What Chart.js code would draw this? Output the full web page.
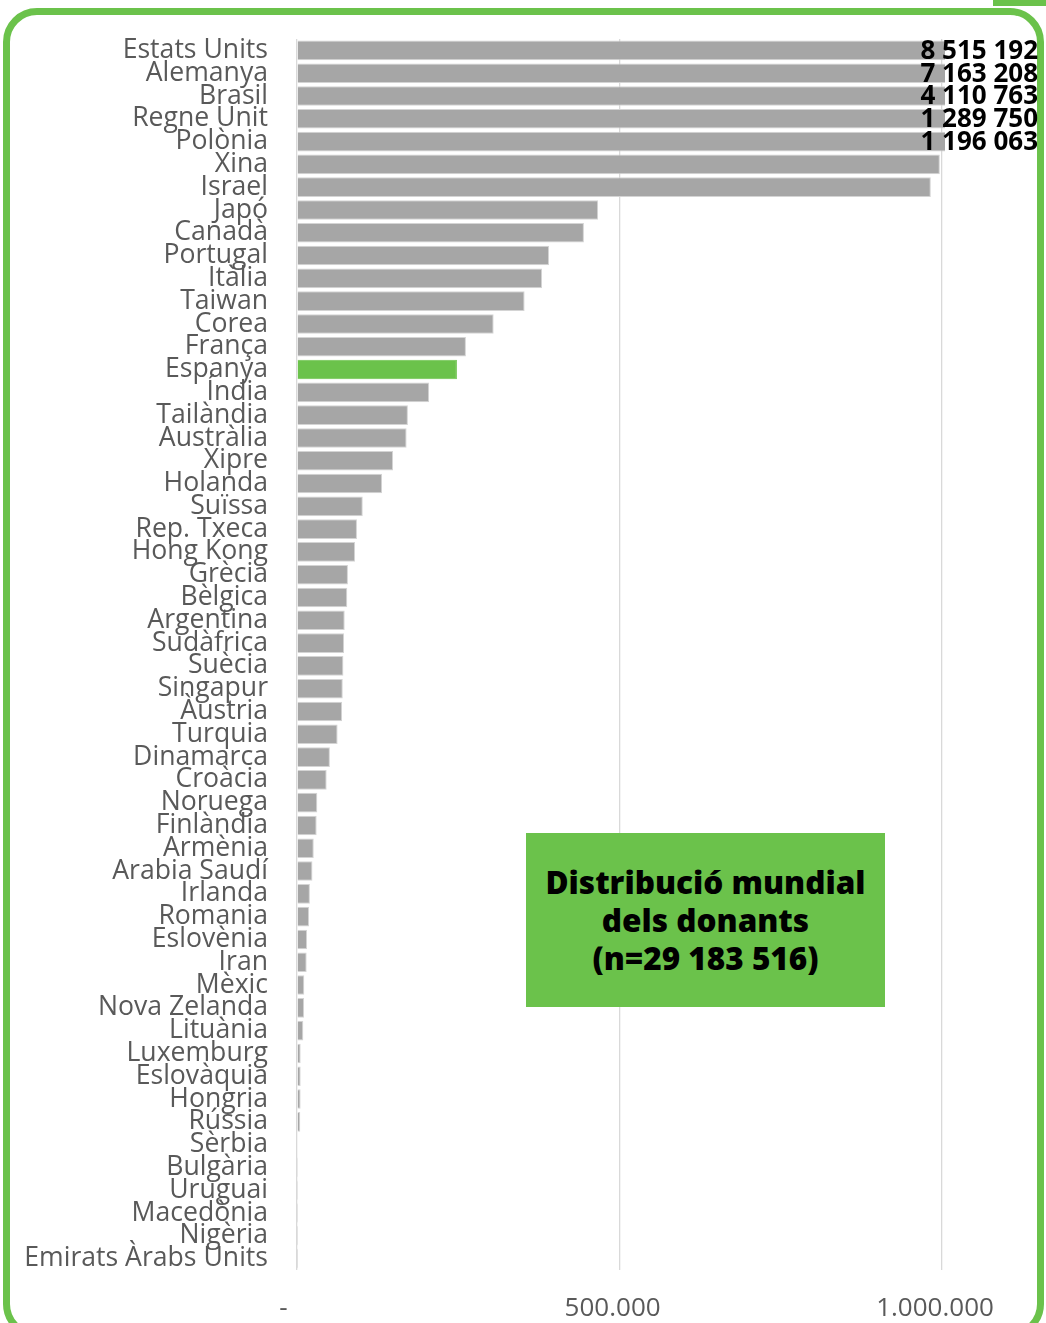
<!DOCTYPE html>
<html>
<head>
<meta charset="utf-8">
<script src="https://cdn.jsdelivr.net/npm/chart.js@4.4.1/dist/chart.umd.min.js"></script>
<style>
  body { margin: 0; background: #fff; }
  #wrap { position: relative; width: 1046px; height: 1323px; overflow: hidden; }
  #frame { position: absolute; left: 3px; top: 8px; width: 1041px; height: 1330px; box-sizing: border-box;
           border: 7px solid #6bc24b; border-radius: 34px; }
  #tab { position: absolute; left: 993px; top: 0; width: 53px; height: 6px; background: #6bc24b; }
  canvas { position: absolute; left: 0; top: 2px; }
  #note { position: absolute; left: 526px; top: 833px; width: 359px; height: 174px; background: #6bc24b;
          display: flex; align-items: center; justify-content: center; text-align: center;
          font: 800 31.5px "Open Sans"; line-height: 38px; color: #000; }
</style>
</head>
<body>
<div id="wrap">
  <div id="frame"></div>
  <div id="tab"></div>
  <canvas id="chart" width="1046" height="1321"></canvas>
  <div id="note"><div>Distribució mundial<br>dels donants<br>(n=29 183 516)</div></div>
</div>
<script>
const countries = ['Estats Units', 'Alemanya', 'Brasil', 'Regne Unit', 'Polònia', 'Xina', 'Israel', 'Japó',
  'Canadà', 'Portugal', 'Itàlia', 'Taiwan', 'Corea', 'França', 'Espanya', 'Índia', 'Tailàndia', 'Austràlia',
  'Xipre', 'Holanda', 'Suïssa', 'Rep. Txeca', 'Hong Kong', 'Grècia', 'Bèlgica', 'Argentina', 'Sudàfrica',
  'Suècia', 'Singapur', 'Àustria', 'Turquia', 'Dinamarca', 'Croàcia', 'Noruega', 'Finlàndia', 'Armènia',
  'Arabia Saudí', 'Irlanda', 'Romania', 'Eslovènia', 'Iran', 'Mèxic', 'Nova Zelanda', 'Lituània',
  'Luxemburg', 'Eslovàquia', 'Hongria', 'Rússia', 'Sèrbia', 'Bulgària', 'Uruguai', 'Macedònia', 'Nigèria',
  'Emirats Àrabs Units']

const donors = [8515192, 7163208, 4110763, 1289750, 1196063, 997000, 983000, 467000,
  445000, 391000, 380000, 353000, 305000, 262000, 248000, 205000, 172000, 170000,
  149000, 132000, 102000, 93000, 90000, 79000, 78000, 74000, 73000,
  72000, 71000, 70000, 63000, 51000, 46000, 31500, 30500, 26000,
  24000, 20000, 18600, 15500, 15000, 11300, 10900, 9800,
  5700, 5700, 5600, 5100, 900, 300, 200, 150, 100,
  50]

const xTicks = [0, 500000, 1000000]
const xTickLabels = ['-    ', '500.000  ', '1.000.000  ']
const axisMax = 1005000
const highlight = 'Espanya'

const grey = '#a6a6a6'
const green = '#6bc24b'
const fills = countries.map(c => c === highlight ? green : grey)
const edges = countries.map(c => c === highlight ? green : '#d4d4d4')

const fmt = v => String(v).replace(/\B(?=(\d{3})+(?!\d))/g, ' ')

// totals for bars that run past the axis end
const overflowLabels = {
  id: 'overflowLabels',
  afterDatasetsDraw(chart) {
    const ctx = chart.ctx
    const meta = chart.getDatasetMeta(0)
    ctx.save()
    ctx.font = 'bold 26px "Open Sans"'
    ctx.fillStyle = '#000'
    ctx.textAlign = 'right'
    ctx.textBaseline = 'middle'
    meta.data.forEach((bar, i) => {
      if (donors[i] > axisMax) ctx.fillText(fmt(donors[i]), 1038, bar.y + 1)
    })
    ctx.restore()
  }
}

new Chart(document.getElementById('chart'), {
  type: 'bar',
  data: {
    labels: countries,
    datasets: [{
      data: donors,
      backgroundColor: fills,
      borderColor: edges,
      borderWidth: 1,
      barPercentage: 0.86,
      categoryPercentage: 1
    }]
  },
  options: {
    indexAxis: 'y',
    responsive: false,
    animation: false,
    layout: { padding: { top: 37, right: 101, bottom: 0, left: 0 } },
    plugins: { legend: { display: false }, tooltip: { enabled: false } },
    scales: {
      x: {
        min: 0,
        max: axisMax,
        border: { display: false },
        grid: { color: '#d9d9d9', lineWidth: 1.3, drawTicks: false },
        afterBuildTicks: s => { s.ticks = xTicks.map(v => ({ value: v })) },
        afterFit: s => { s.height = 53 },
        ticks: {
          padding: 23,
          color: '#595959',
          font: { family: 'Open Sans', size: 26 },
          maxRotation: 0,
          callback: (v) => xTickLabels[xTicks.indexOf(v)]
        }
      },
      y: {
        border: { display: false },
        grid: { display: false, drawTicks: false },
        afterFit: s => { s.width = 297; s.paddingTop = 0; s.paddingBottom = 0 },
        ticks: {
          autoSkip: false,
          padding: 29,
          color: '#595959',
          font: { family: 'Open Sans', size: 26.6 }
        }
      }
    }
  },
  plugins: [overflowLabels]
})
</script>
</body>
</html>
